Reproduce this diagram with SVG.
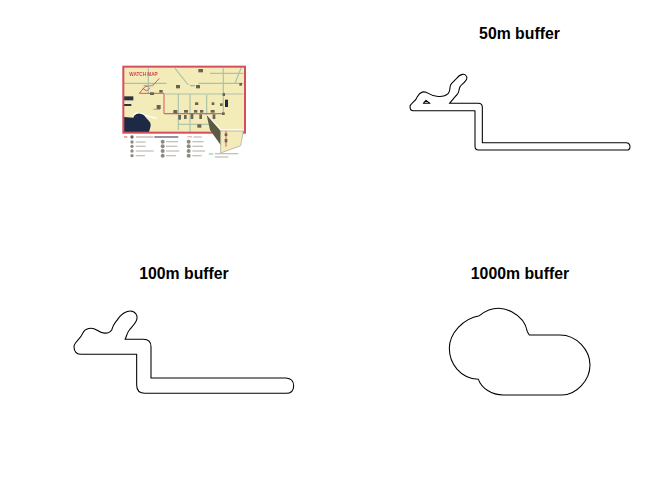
<svg xmlns="http://www.w3.org/2000/svg" width="672" height="480" viewBox="0 0 672 480">
<style>
.title{font-family:"Liberation Sans",Arial,sans-serif;font-weight:bold;font-size:15.8px;text-anchor:middle;fill:#000}
.buf{fill:#fff;stroke:#000;stroke-width:3.2;stroke-linejoin:round}
.road{fill:none;stroke:#a9c2ac;stroke-width:3.5}
.red{fill:none;stroke:#d8565f;stroke-width:3}
.poi{fill:#6b6355}
.leg{fill:#c4c2ba}
.ico{fill:#8f8a80}
</style>
<defs><filter id="b" x="-5%" y="-5%" width="110%" height="110%"><feGaussianBlur stdDeviation="1.9"/></filter></defs>
<rect width="672" height="480" fill="#fff"/>
<g id="map" transform="translate(110,55) scale(.33333)">
<g filter="url(#b)">
<rect x="40" y="35" width="365" height="198" fill="#f3ecb8"/>
<path d="M42 186L70 188C76 172 95 168 104 182C108 192 124 198 122 212C120 222 118 228 116 233H42Z" fill="#1d2b45"/>
<path d="M70 180Q88 166 108 182L140 190" stroke="#fff" stroke-width="4" fill="none"/>
<rect x="42" y="124" width="28" height="12" fill="#2c3344"/><rect x="42" y="147" width="22" height="6" fill="#2c3344"/>
<path d="M290 180L332 225H400" stroke="#fff" stroke-width="4" fill="none"/>
<g class="road">
<path d="M165 117H400"/><path d="M205 117V225"/><path d="M240 117V233"/><path d="M165 176H345"/><path d="M205 208H300"/><path d="M340 40V180"/><path d="M115 40V115"/><path d="M195 40L235 90"/><path d="M300 55L400 55"/><path d="M265 85H400"/><path d="M42 85H170"/><path d="M290 120V180"/><path d="M375 85L395 35"/>
</g>
<path d="M88 115L105 95L130 90L148 70M88 115H162V176H340" class="red"/>
<path d="M98 100L110 108L120 98" class="red"/>
<path d="M101 92H130M130 163H150M240 92H255" stroke="#7fc3b3" stroke-width="4" fill="none"/>
<g class="poi">
<rect x="265" y="42" width="14" height="10"/><rect x="198" y="90" width="12" height="10"/><rect x="258" y="90" width="12" height="10"/><rect x="388" y="84" width="8" height="8"/><rect x="338" y="114" width="7" height="9"/><rect x="120" y="112" width="12" height="8"/><rect x="148" y="105" width="10" height="8"/><rect x="140" y="150" width="12" height="12"/><rect x="190" y="165" width="12" height="10"/><rect x="222" y="165" width="12" height="8"/><rect x="252" y="165" width="10" height="8"/><rect x="270" y="165" width="10" height="8"/><rect x="302" y="165" width="12" height="8"/><rect x="205" y="180" width="8" height="14"/><rect x="222" y="180" width="8" height="12"/><rect x="242" y="176" width="8" height="16"/><rect x="268" y="178" width="8" height="14"/><rect x="308" y="178" width="8" height="14"/><rect x="336" y="172" width="8" height="8"/><rect x="262" y="208" width="12" height="10"/><rect x="255" y="142" width="10" height="8"/><rect x="305" y="142" width="8" height="8"/><rect x="330" y="145" width="8" height="8"/>
<rect x="345" y="134" width="9" height="22" fill="#1d2b45"/>
</g>
<rect x="40" y="35" width="365" height="198" fill="none" stroke="#d4505b" stroke-width="6"/>
<path d="M290 180L332 228V270L300 225Z" fill="#5c5a42"/>
<path d="M332 228H400L392 272L332 294Z" fill="#f3ecb8" stroke="#a0a096" stroke-width="2"/>
<path d="M348 228V275" stroke="#d8565f" stroke-width="3"/>
<rect x="344" y="235" width="8" height="8" class="poi"/><rect x="344" y="252" width="8" height="10" class="poi"/>
<text x="58" y="63" font-family="Liberation Sans,Arial,sans-serif" font-weight="bold" font-size="14" fill="#cf4650">WATCH MAP</text>
<path d="M42 246H52" class="red"/><circle cx="66" cy="246" r="5" class="poi"/>
<rect x="78" y="244" width="52" height="4" fill="#bdb8aa"/><rect x="133" y="244" width="72" height="4" fill="#5d6170"/>
<rect x="232" y="244" width="14" height="3" fill="#dc9a9a"/><rect x="250" y="244" width="26" height="4" class="leg"/>
<g class="ico">
<circle cx="66" cy="261" r="5"/><circle cx="66" cy="274" r="5"/><circle cx="66" cy="288" r="5"/><circle cx="66" cy="302" r="5"/>
<circle cx="158" cy="260" r="6"/><circle cx="158" cy="274" r="6"/><circle cx="158" cy="288" r="6"/><circle cx="158" cy="302" r="6"/>
<circle cx="236" cy="260" r="6"/><circle cx="236" cy="274" r="6"/><circle cx="236" cy="288" r="6"/><circle cx="236" cy="302" r="6"/>
</g>
<g class="leg">
<rect x="77" y="259" width="30" height="4"/><rect x="77" y="272" width="30" height="4"/><rect x="77" y="286" width="54" height="4"/><rect x="77" y="300" width="28" height="4"/>
<rect x="168" y="258" width="36" height="4"/><rect x="168" y="272" width="34" height="4"/><rect x="168" y="286" width="40" height="4"/><rect x="168" y="300" width="30" height="4"/>
<rect x="247" y="258" width="34" height="4"/><rect x="247" y="272" width="32" height="4"/><rect x="247" y="286" width="38" height="4"/><rect x="247" y="300" width="28" height="4"/>
<rect x="315" y="294" width="70" height="4"/><rect x="315" y="304" width="40" height="4"/>
</g>
<path d="M296 297H310" stroke="#7fc3b3" stroke-width="3"/>
</g>
</g>
<g id="b50">
<text class="title" x="519.5" y="39">50m buffer</text>
<g transform="translate(400,60) scale(.33333)">
<path class="buf" d="M30 140C30 130 48 125 52 110C60 95 72 92 85 100C100 110 130 115 145 100C155 85 145 80 155 70L170 55C180 42 195 38 200 50C205 62 185 72 180 80C175 90 180 95 170 105C160 115 155 125 148 130H235Q247 130 247 142V248H680Q690 250 690 260Q690 270 680 270H235Q225 270 225 258V152H40Q30 152 30 140Z"/>
<path class="buf" d="M70 130L78 121L90 130Z"/>
</g>
</g>
<g id="b100">
<text class="title" x="184" y="279">100m buffer</text>
<g transform="translate(60,300) scale(.33333)">
<path class="buf" d="M42 140C42 125 60 120 68 100C75 85 95 80 110 90C125 100 145 105 155 90C160 70 165 70 175 55C190 35 215 25 228 42C240 60 215 80 208 90C200 100 200 110 195 118H250Q273 118 273 140V234H678Q701 236 701 257Q701 280 678 280H255Q230 280 230 255V163H65Q42 163 42 140Z"/>
</g>
</g>
<g id="b1000">
<text class="title" x="520" y="279">1000m buffer</text>
<g transform="translate(440,300) scale(.33333)">
<path class="buf" d="M28 145C28 100 70 55 118 47C150 22 185 20 215 35C240 48 258 70 262 95L268 105H360C410 105 450 150 450 195C450 240 410 285 365 285H190C155 285 125 265 115 238C60 235 28 190 28 145Z"/>
</g>
</g>
</svg>
